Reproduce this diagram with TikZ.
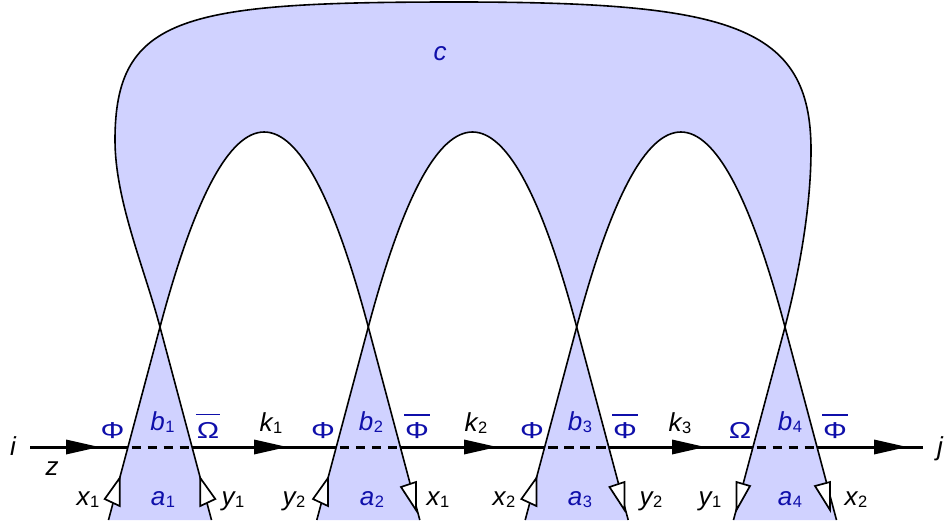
\documentclass[tikz,border=0pt]{standalone}
\usepackage{fontspec}
\setmainfont{Liberation Sans}
\newfontfamily\grkfont[FakeStretch=1.3]{Liberation Sans}
\usetikzlibrary{arrows.meta}
\definecolor{sheet}{RGB}{208,210,255}
\definecolor{lblue}{RGB}{15,15,170}
\newcommand\gk[1]{{\grkfont\fontsize{23}{23}\selectfont #1}}
\newcommand\lt[1]{{\fontsize{26}{26}\selectfont\itshape #1}}
\newcommand\lbl[2]{\lt{#1}\kern0.5pt\raisebox{-2pt}{\fontsize{16.5}{16.5}\selectfont #2}}
\newcommand\obar[1]{\vbox{\hrule height 1.9pt\kern 6.5pt\hbox{\kern1pt\gk{#1}\kern1pt}}}
\begin{document}
\begin{tikzpicture}[x=1pt,y=-1pt,
  sheetfill/.style={fill=sheet, even odd rule},
  edge/.style={line width=1.6pt, line join=round},
  mainline/.style={line width=3pt},
  gapline/.style={mainline, dash pattern=on 9.5pt off 6.5pt, dash phase=12.5pt},
  tiphead/.style={fill=black},
  half/.style={draw, fill=white, line width=1.7pt, line join=miter},
  blab/.style={text=lblue, anchor=base, inner sep=0pt},
  klab/.style={text=black, anchor=base, inner sep=0pt}]
\useasboundingbox (0,0) rectangle (945,525);
% crossings
\coordinate (X1) at (160,327);
\coordinate (X2) at (368.3,327);
\coordinate (X3) at (576.7,327);
\coordinate (X4) at (785,327);
% bottoms
\coordinate (b1L) at (108.5,520); \coordinate (b1R) at (211.5,520);
\coordinate (b2L) at (316.8,520); \coordinate (b2R) at (419.8,520);
\coordinate (b3L) at (525.2,520); \coordinate (b3R) at (628.2,520);
\coordinate (b4L) at (733.5,520); \coordinate (b4R) at (836.5,520);
% outer curve key points
\coordinate (OL) at (115,140);
\coordinate (OT) at (457,2);
\coordinate (OR) at (811,150);
% fill
\fill[sheetfill] (b1R) -- (X1) .. controls (144,267) and (115,200) .. (OL)
  .. controls (115,15) and (185,2) .. (OT)
  .. controls (730,2) and (811,25) .. (OR)
  .. controls (811,210) and (798,277) .. (X4) -- (b4L) -- (b4R) -- (X4)
  .. controls (715.7,67) and (646,67) .. (X3) -- (b3L) -- (b3R) -- (X3)
  .. controls (507.4,67) and (437.6,67) .. (X2) -- (b2L) -- (b2R) -- (X2)
  .. controls (299,67) and (229.3,67) .. (X1) -- (b1L) -- cycle;
% outlines
\draw[edge] (b1R) -- (X1) .. controls (144,267) and (115,200) .. (OL)
  .. controls (115,15) and (185,2) .. (OT)
  .. controls (730,2) and (811,25) .. (OR)
  .. controls (811,210) and (798,277) .. (X4) -- (b4L);
\draw[edge] (b1L) -- (X1) .. controls (229.3,67) and (299,67) .. (X2) -- (b2R);
\draw[edge] (b2L) -- (X2) .. controls (437.6,67) and (507.4,67) .. (X3) -- (b3R);
\draw[edge] (b3L) -- (X3) .. controls (646,67) and (715.7,67) .. (X4) -- (b4R);
% horizontal line
\coordinate (L0) at (30,447);
\coordinate (A1) at (99,447);
\coordinate (D1a) at (128,447); \coordinate (D1b) at (192,447);
\coordinate (A2) at (287,447);
\coordinate (D2a) at (336.3,447); \coordinate (D2b) at (400.3,447);
\coordinate (A3) at (497,447);
\coordinate (D3a) at (544.7,447); \coordinate (D3b) at (608.7,447);
\coordinate (A4) at (705,447);
\coordinate (D4a) at (753,447); \coordinate (D4b) at (817,447);
\coordinate (A5) at (907,447);
\coordinate (R0) at (923,447);
\draw[mainline] (L0) -- (D1a);
\draw[gapline] (D1a) -- (D1b);
\draw[mainline] (D1b) -- (D2a);
\draw[gapline] (D2a) -- (D2b);
\draw[mainline] (D2b) -- (D3a);
\draw[gapline] (D3a) -- (D3b);
\draw[mainline] (D3b) -- (D4a);
\draw[gapline] (D4a) -- (D4b);
\draw[mainline] (D4b) -- (R0);
\foreach \t in {A1,A2,A3,A4,A5}
  \fill[tiphead] (\t) -- ++(-33,-7.5) -- ++(0,15) -- cycle;
% half arrowheads (harpoon-like) on the strip lines
% up-pointing: tip, barb, foot
\draw[half] (119.7,478) -- (104.7,499) -- (119.7,506) -- cycle;
\draw[half] (200.3,478) -- (215.3,499) -- (200.3,506) -- cycle;
\draw[half] (328,478) -- (313,499) -- (328,506) -- cycle;
\draw[half] (536.4,478) -- (521.4,499) -- (536.4,506) -- cycle;
% down-pointing: tip, barb, head
\draw[half] (416,510) -- (401,487) -- (416,482) -- cycle;
\draw[half] (624.5,510) -- (609.5,487) -- (624.5,482) -- cycle;
\draw[half] (736.5,510) -- (750,486) -- (736.5,482) -- cycle;
\draw[half] (830,510) -- (815,486) -- (830,482) -- cycle;
% labels
\node[klab] (ti) at (13,455) {\lt{i}};
\node[klab] (tj) at (940,455) {\lt{j}};
\node[klab] (tz) at (52,475) {\lt{z}};
\node[blab] (c) at (440,60) {\lt{c}};
% strip 1
\node[blab] (p1) at (112.5,438) {\gk{Φ}};
\node[blab] (bb1) at (162.5,430) {\lbl{b}{1}};
\node[blab] (q1) at (208,438) {\obar{Ω}};
\node[klab] (k1) at (271,431) {\lbl{k}{1}};
\node[klab] (xa) at (88,505) {\lbl{x}{1}};
\node[blab] (aa1) at (163,505) {\lbl{a}{1}};
\node[klab] (ya) at (233,505) {\lbl{y}{1}};
% strip 2
\node[blab] (p2) at (323,438) {\gk{Φ}};
\node[blab] (bb2) at (371,430) {\lbl{b}{2}};
\node[blab] (q2) at (417,438) {\obar{Φ}};
\node[klab] (k2) at (476,431) {\lbl{k}{2}};
\node[klab] (yb) at (294,505) {\lbl{y}{2}};
\node[blab] (aa2) at (372,505) {\lbl{a}{2}};
\node[klab] (xb) at (438,505) {\lbl{x}{1}};
% strip 3
\node[blab] (p3) at (532,438) {\gk{Φ}};
\node[blab] (bb3) at (580,430) {\lbl{b}{3}};
\node[blab] (q3) at (625,438) {\obar{Φ}};
\node[klab] (k3) at (680,431) {\lbl{k}{3}};
\node[klab] (xc) at (504,505) {\lbl{x}{2}};
\node[blab] (aa3) at (580,505) {\lbl{a}{3}};
\node[klab] (yc) at (651,505) {\lbl{y}{2}};
% strip 4
\node[blab] (p4) at (740,438) {\gk{Ω}};
\node[blab] (bb4) at (790,430) {\lbl{b}{4}};
\node[blab] (q4) at (835,438) {\obar{Φ}};
\node[klab] (yd) at (710,505) {\lbl{y}{1}};
\node[blab] (aa4) at (790,505) {\lbl{a}{4}};
\node[klab] (xd) at (856,505) {\lbl{x}{2}};
\end{tikzpicture}
\end{document}
